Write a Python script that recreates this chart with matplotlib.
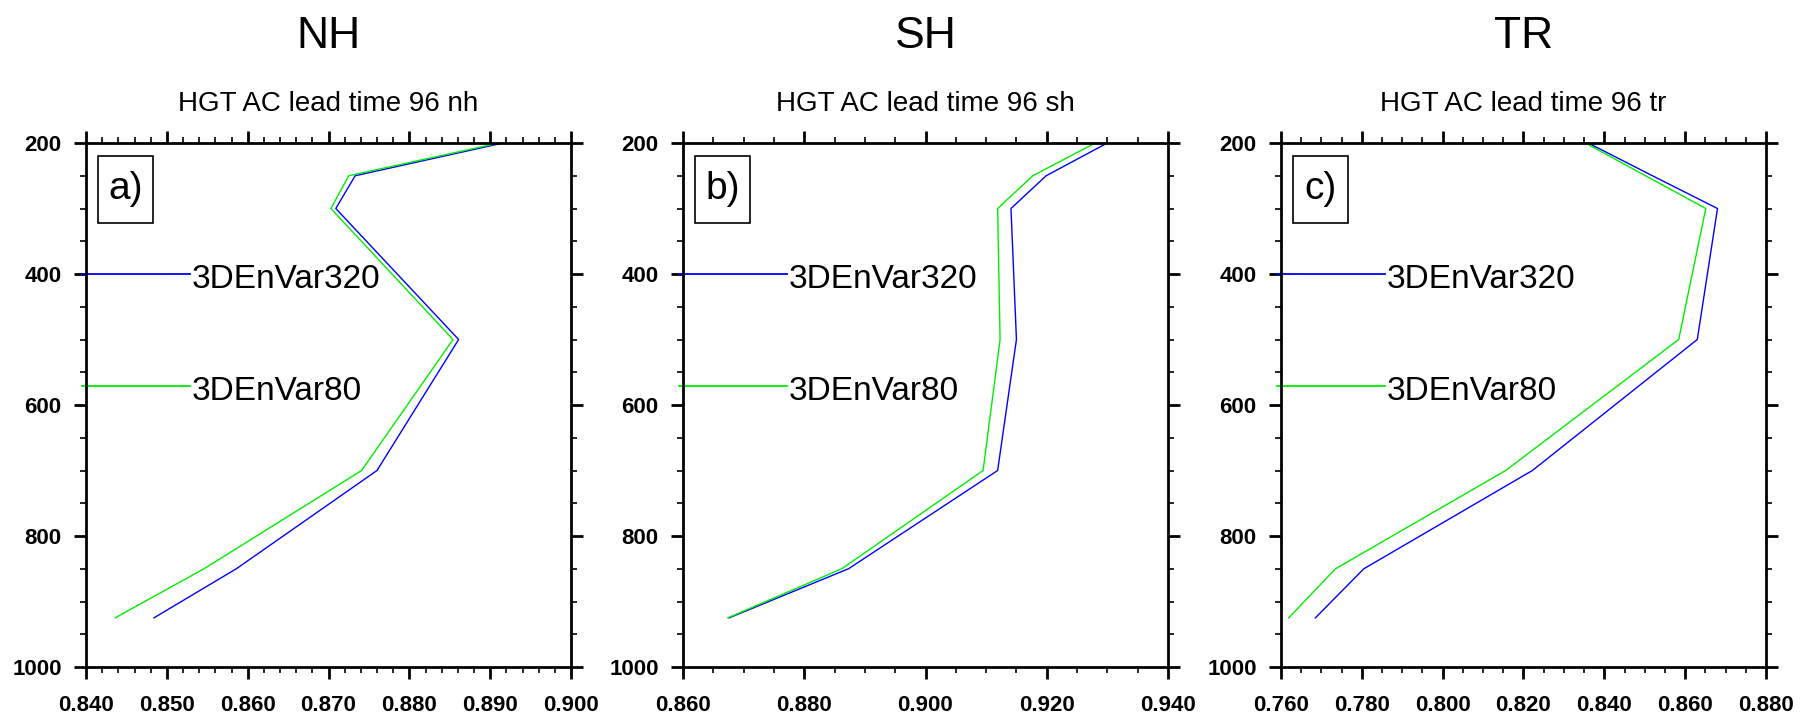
import numpy as np
import matplotlib
matplotlib.use("Agg")
import matplotlib.pyplot as plt
from matplotlib import font_manager
from matplotlib.patches import Rectangle
from matplotlib.ticker import MultipleLocator, FormatStrFormatter

plt.rcParams["font.family"] = ["Liberation Sans", "DejaVu Sans"]

# pressure levels (hPa)
LEVELS = [200, 250, 300, 500, 700, 850, 925]

# anomaly correlation, HGT, 96 h lead time
NH_320 = [0.8916, 0.8733, 0.8709, 0.8861, 0.8760, 0.8586, 0.8484]
NH_80 = [0.8911, 0.8725, 0.8703, 0.8854, 0.8741, 0.8546, 0.8436]
SH_320 = [0.9300, 0.9199, 0.9141, 0.9150, 0.9119, 0.8873, 0.8676]
SH_80 = [0.9280, 0.9177, 0.9119, 0.9123, 0.9095, 0.8862, 0.8674]
TR_320 = [0.8360, 0.8519, 0.8680, 0.8630, 0.8222, 0.7805, 0.7685]
TR_80 = [0.8353, 0.8502, 0.8651, 0.8584, 0.8156, 0.7735, 0.7619]

REGIONS = ["NH", "SH", "TR"]
SUBTITLES = ["HGT AC lead time 96 nh", "HGT AC lead time 96 sh",
             "HGT AC lead time 96 tr"]
PANEL_TAGS = ["a)", "b)", "c)"]
XLIMS = [(0.840, 0.900), (0.860, 0.940), (0.760, 0.880)]
XMAJOR = [0.01, 0.02, 0.02]
XMINOR = [0.002, 0.005, 0.005]

SERIES_NAMES = ["3DEnVar320", "3DEnVar80"]
SERIES_COLORS = ["#0000ff", "#00ee00"]
DATA = [(NH_320, NH_80), (SH_320, SH_80), (TR_320, TR_80)]


def bold_font(size):
    # pick the regular-width Liberation Sans Bold (not the Narrow cut)
    for f in font_manager.fontManager.ttflist:
        if (f.name == "Liberation Sans" and f.weight in (700, "bold")
                and "narrow" not in f.fname.lower()):
            return font_manager.FontProperties(fname=f.fname, size=size)
    return font_manager.FontProperties(family="DejaVu Sans", weight="bold",
                                       size=size - 1.5)


TICK_FONT = bold_font(16)

W, H = 1810, 719
fig = plt.figure(figsize=(W / 100, H / 100), dpi=100)

lefts = [86, 683, 1281]
ax_w, ax_top, ax_bot = 485, 143, 667

for i, left in enumerate(lefts):
    ax = fig.add_axes([left / W, 1 - ax_bot / H, ax_w / W, (ax_bot - ax_top) / H])
    for vals, col in zip(DATA[i], SERIES_COLORS):
        ax.plot(vals, LEVELS, color=col, lw=1.0)
    ax.set_xlim(*XLIMS[i])
    ax.set_ylim(1000, 200)
    ax.xaxis.set_major_locator(MultipleLocator(XMAJOR[i]))
    ax.xaxis.set_minor_locator(MultipleLocator(XMINOR[i]))
    ax.xaxis.set_major_formatter(FormatStrFormatter("%.3f"))
    ax.yaxis.set_major_locator(MultipleLocator(200))
    ax.yaxis.set_minor_locator(MultipleLocator(50))
    ax.tick_params(which="both", direction="out", top=True, right=True)
    ax.tick_params(which="major", length=8.5, width=2)
    ax.tick_params(axis="x", which="major", pad=12)
    ax.tick_params(axis="y", which="major", pad=9)
    ax.tick_params(which="minor", length=4.5, width=1.2)
    for lab in ax.get_xticklabels() + ax.get_yticklabels():
        lab.set_fontproperties(TICK_FONT)
    for sp in ax.spines.values():
        sp.set_linewidth(2)

    # NCL-style legend drawn inside the plot
    for yy, name, col in zip([0.75, 0.537], SERIES_NAMES, SERIES_COLORS):
        ax.plot([-0.008, 0.214], [yy, yy], color=col, lw=1.3,
                transform=ax.transAxes, clip_on=False)
        ax.text(0.218, yy - 0.004, name, transform=ax.transAxes, fontsize=24,
                ha="left", va="center_baseline")

    # panel tag in a box
    ax.add_patch(Rectangle((0.024, 0.848), 0.114, 0.127, transform=ax.transAxes,
                           fill=False, ec="k", lw=1.2))
    ax.text(0.081, 0.9115, PANEL_TAGS[i], transform=ax.transAxes, fontsize=28,
            ha="center", va="center")

    ax.text(0.5, 1.074, SUBTITLES[i], transform=ax.transAxes, fontsize=20,
            ha="center", va="center")
    ax.text(0.5, 1.204, REGIONS[i], transform=ax.transAxes, fontsize=32,
            ha="center", va="center")

fig.savefig("out.png", dpi=100)
